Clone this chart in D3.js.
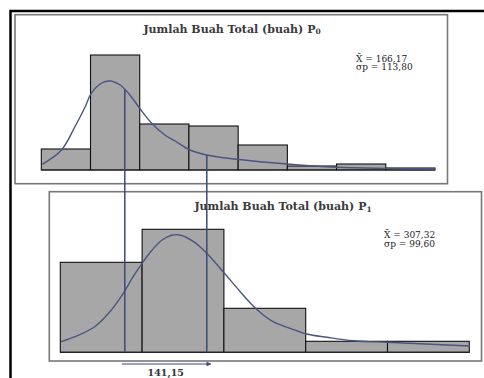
<!DOCTYPE html>
<html><head><meta charset="utf-8">
<script src="https://cdn.jsdelivr.net/npm/d3@7/dist/d3.min.js"></script>
<style>html,body{margin:0;padding:0;background:#fff;overflow:hidden}svg{display:block}</style>
</head><body>
<script>
// ---- data ----
const p0Title = "Jumlah Buah Total (buah) P";
const p0Sub = "0";
const p1Title = "Jumlah Buah Total (buah) P";
const p1Sub = "1";
const p0Bins = [0,1,2,3,4,5,6,7];
const p0Freq = [21,115,46,44,25,4,6,2];
const p1Bins = [0,1,2,3,4];
const p1Freq = [90,123,44,11,11];
// fitted curves: [bin position, density height]
const p0Curve = [[0.02,5.7],[0.41,20],[0.68,43],[0.89,63],[1.02,77],[1.23,87],[1.40,89],[1.60,85],[1.80,75],[2.01,61],[2.24,47],[2.51,35],[2.72,29],[3.02,20],[3.36,15],[3.97,10.7],[4.51,8],[4.99,6],[5.46,4.3],[5.99,2.7],[7.01,1.6],[8.0,1]];
const p1Curve = [[0.01,10.6],[0.18,15.6],[0.42,25.6],[0.59,39],[0.77,59],[0.89,75.6],[1.00,89],[1.12,102],[1.24,112],[1.36,117],[1.46,117.3],[1.63,110.6],[1.79,99],[1.99,80.6],[2.20,60.6],[2.40,43],[2.60,30.6],[2.81,24],[3.01,18.3],[3.26,15],[3.58,11.6],[3.99,10],[4.40,8.6],[5.01,6.3]];
const p0Stats = ["X\u0304 = 166,17", "\u03C3p = 113,80"];
const p1Stats = ["X\u0304 = 307,32", "\u03C3p = 99,60"];
const means = [166.17, 307.32];
const diffLabel = "141,15";

// ---- drawing ----
const W = 484, H = 378;
const svg = d3.select("body").append("svg").attr("width", W).attr("height", H);
const serif = "'DejaVu Serif', 'Liberation Serif', serif";
const lineCol = "#3b4a78";

// outer frame
svg.append("rect").attr("x", 10.5).attr("y", 11).attr("width", 490).attr("height", 420)
  .attr("fill", "none").attr("stroke", "#000").attr("stroke-width", 2.5);

// panel boxes
svg.append("rect").attr("x", 15).attr("y", 14.7).attr("width", 432.5).attr("height", 169)
  .attr("fill", "#fff").attr("stroke", "#777").attr("stroke-width", 1.6);
svg.append("rect").attr("x", 49.3).attr("y", 191.7).attr("width", 432.2).attr("height", 169.3)
  .attr("fill", "#fff").attr("stroke", "#777").attr("stroke-width", 1.6);

// scales
const x0 = d3.scaleLinear().domain([0, 8]).range([41.3, 435]);
const y0 = d3.scaleLinear().domain([0, 120]).range([170, 50]);
const x1 = d3.scaleLinear().domain([0, 5]).range([60.3, 469.3]);
const y1 = d3.scaleLinear().domain([0, 130]).range([352.3, 222.3]);
const xm = d3.scaleLinear().domain(means).range([124.8, 206.8]);

function panel(g, xs, ys, bins, freq, curve) {
  g.selectAll("rect.bar").data(bins).join("rect").attr("class", "bar")
    .attr("x", d => xs(d)).attr("width", d => xs(d + 1) - xs(d))
    .attr("y", (d, i) => ys(freq[i])).attr("height", (d, i) => ys(0) - ys(freq[i]))
    .attr("fill", "#a7a7a7").attr("stroke", "#111").attr("stroke-width", 1.1);
  g.append("line").attr("x1", xs.range()[0]).attr("x2", xs.range()[1])
    .attr("y1", ys(0)).attr("y2", ys(0)).attr("stroke", "#222").attr("stroke-width", 1.2);
  const ln = d3.line().x(d => xs(d[0])).y(d => ys(d[1])).curve(d3.curveCatmullRom);
  g.append("path").attr("d", ln(curve)).attr("fill", "none")
    .attr("stroke", "#4a5582").attr("stroke-width", 1.4);
}
panel(svg.append("g"), x0, y0, p0Bins, p0Freq, p0Curve);
panel(svg.append("g"), x1, y1, p1Bins, p1Freq, p1Curve);

// curve value interpolation for line tops
function curveAt(curve, t) {
  for (let i = 1; i < curve.length; i++) {
    if (t <= curve[i][0]) {
      const a = curve[i - 1], b = curve[i];
      return a[1] + (b[1] - a[1]) * (t - a[0]) / (b[0] - a[0]);
    }
  }
  return curve[curve.length - 1][1];
}

// mean lines
svg.selectAll("line.mean").data(means).join("line").attr("class", "mean")
  .attr("x1", d => xm(d)).attr("x2", d => xm(d))
  .attr("y1", d => y0(curveAt(p0Curve, x0.invert(xm(d)))))
  .attr("y2", y1(0))
  .attr("stroke", lineCol).attr("stroke-width", 1.5);

// titles
function title(x, y, t, sub) {
  const tx = svg.append("text").attr("x", x).attr("y", y).attr("text-anchor", "middle")
    .attr("font-family", serif).attr("font-weight", "bold").attr("font-size", 11).attr("fill", "#3a3a3a");
  tx.append("tspan").text(t);
  tx.append("tspan").attr("font-size", 7.5).attr("dy", 1.5).text(sub);
}
title(232, 32.5, p0Title, p0Sub);
title(283, 210, p1Title, p1Sub);

// stats
function stats(x, y, lines) {
  svg.selectAll(null).data(lines).join("text")
    .attr("x", x).attr("y", (d, i) => y + i * 8.8)
    .attr("font-family", serif).attr("font-size", 9).attr("fill", "#222")
    .text(d => d);
}
stats(356, 61.5, p0Stats);
stats(384, 238, p1Stats);

// arrow
const defs = svg.append("defs");
defs.append("marker").attr("id", "ah").attr("viewBox", "0 0 10 10").attr("refX", 9).attr("refY", 5)
  .attr("markerWidth", 5).attr("markerHeight", 4).attr("orient", "auto")
  .append("path").attr("d", "M0,0L10,5L0,10z").attr("fill", lineCol);
svg.append("line").attr("x1", xm(means[0]) - 3).attr("x2", xm(means[1]) + 4)
  .attr("y1", 364).attr("y2", 364).attr("stroke", lineCol).attr("stroke-width", 1.2)
  .attr("marker-end", "url(#ah)");
svg.append("text").attr("x", (xm(means[0]) + xm(means[1])) / 2).attr("y", 375.5)
  .attr("text-anchor", "middle").attr("font-family", serif).attr("font-weight", "bold")
  .attr("font-size", 9.5).attr("fill", "#333").text(diffLabel);
</script>
</body></html>
